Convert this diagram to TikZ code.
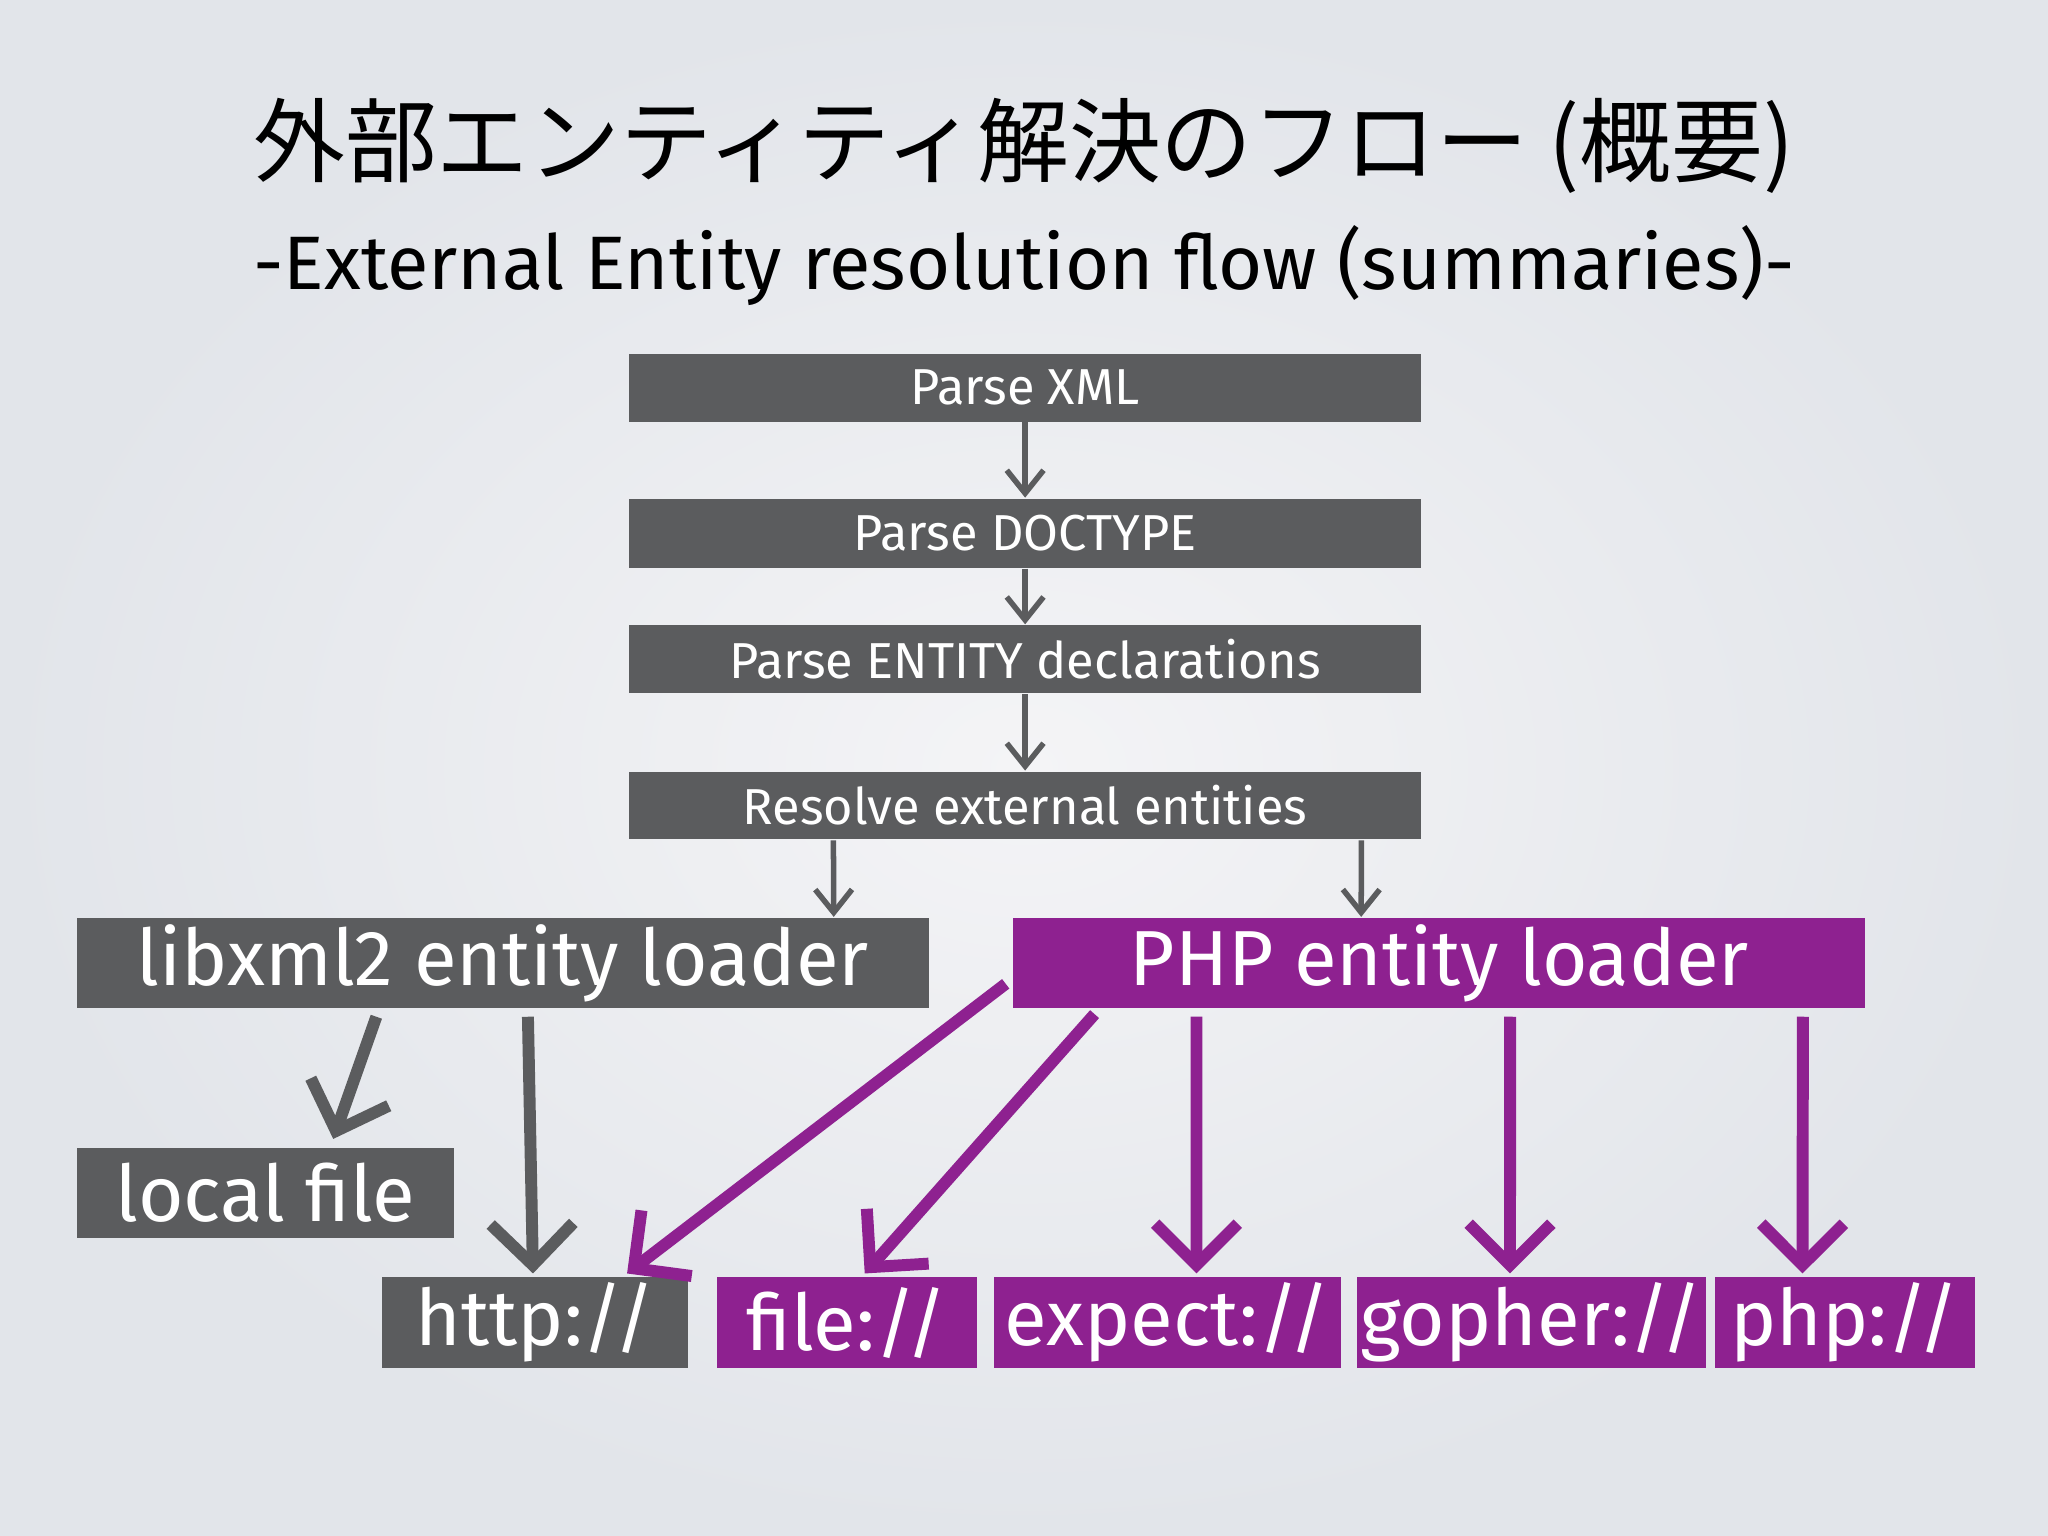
\documentclass[tikz,border=0pt]{standalone}
\usepackage{fontspec}
\setmainfont{Fira Sans}
\newfontfamily\cjk{Noto Sans CJK JP}
\usetikzlibrary{arrows.meta,shadings}
\definecolor{gbox}{HTML}{5B5C5E}
\definecolor{pbox}{HTML}{8E2190}
\definecolor{bgout}{HTML}{E2E5EA}
\definecolor{bgin}{HTML}{F4F4F6}
\begin{document}
\begin{tikzpicture}[x=0.01cm,y=-0.01cm,
  box/.style={fill=gbox,text=white,inner sep=0,anchor=north west},
  sm/.style={box,font=\fontsize{11}{13}\selectfont},
  bg/.style={box,font=\fontsize{17}{20}\selectfont},
  pb/.style={bg,fill=pbox},
  sarr/.style={draw=gbox,line width=1.2pt,-{Straight Barb[length=5pt,width=8pt,line width=1.2pt]}},
  garr/.style={draw=gbox,line width=2.6pt,-{Straight Barb[length=9pt,width=18pt,line width=2.6pt]}},
  parr/.style={garr,draw=pbox}]
\shade[inner color=bgin,outer color=bgout] (0,0) rectangle (1568,1176);
\useasboundingbox (0,0) rectangle (1568,1176);
\node (t1) at (784,112) {\cjk\fontsize{20}{24}\selectfont 外部エンティティ解決のフロー (概要)};
\node (t2) at (784,203) {\fontsize{16.5}{20}\selectfont -External Entity resolution flow (summaries)-};
\node[sm,minimum width=6.06cm,minimum height=0.52cm] (a) at (481,270) {Parse XML};
\node[sm,minimum width=6.06cm,minimum height=0.53cm] (b) at (481,381) {Parse DOCTYPE};
\node[sm,minimum width=6.06cm,minimum height=0.52cm] (c) at (481,478) {Parse ENTITY declarations};
\node[sm,minimum width=6.06cm,minimum height=0.52cm] (d) at (481,590) {Resolve external entities};
\node[bg,minimum width=6.52cm,minimum height=0.69cm] (lib) at (58,702) {libxml2 entity loader};
\node[pb,minimum width=6.52cm,minimum height=0.69cm] (php) at (775,702) {PHP entity loader};
\node[bg,minimum width=2.89cm,minimum height=0.69cm] (loc) at (58,878) {local file};
\node[bg,minimum width=2.34cm,minimum height=0.70cm] (http) at (292,977) {http://};
\node[pb,minimum width=1.99cm,minimum height=0.70cm] (file) at (548,977) {file://};
\node[pb,minimum width=2.66cm,minimum height=0.70cm] (exp) at (760,977) {expect://};
\node[pb,minimum width=2.67cm,minimum height=0.70cm] (gop) at (1038,977) {gopher://};
\node[pb,minimum width=1.99cm,minimum height=0.70cm] (phpw) at (1312,977) {php://};
\draw[sarr] (a) -- (b);
\draw[sarr] (b) -- (c);
\draw[sarr] (c) -- (d);
\draw[sarr] ([xshift=1.57cm]d.south west) -- ([xshift=5.80cm]lib.north west);
\draw[sarr] ([xshift=5.61cm]d.south west) -- ([xshift=2.67cm]php.north west);
\draw[garr] ([xshift=2.30cm,yshift=-0.06cm]lib.south west) -- ([xshift=1.97cm,yshift=0.06cm]loc.north west);
\draw[garr] ([xshift=3.46cm,yshift=-0.06cm]lib.south west) -- ([xshift=1.16cm,yshift=0.02cm]http.north west);
\draw[parr] ([xshift=-0.05cm,yshift=-0.16cm]php.west) -- ([xshift=1.88cm,yshift=0.02cm]http.north west);
\draw[parr] ([xshift=0.63cm,yshift=-0.04cm]php.south west) -- ([xshift=1.14cm,yshift=0.02cm]file.north west);
\draw[parr] ([xshift=1.41cm,yshift=-0.06cm]php.south west) -- ([xshift=1.56cm,yshift=0.02cm]exp.north west);
\draw[parr] ([xshift=3.81cm,yshift=-0.06cm]php.south west) -- ([xshift=1.18cm,yshift=0.02cm]gop.north west);
\draw[parr] ([xshift=6.05cm,yshift=-0.06cm]php.south west) -- ([xshift=0.68cm,yshift=0.02cm]phpw.north west);
\end{tikzpicture}
\end{document}
